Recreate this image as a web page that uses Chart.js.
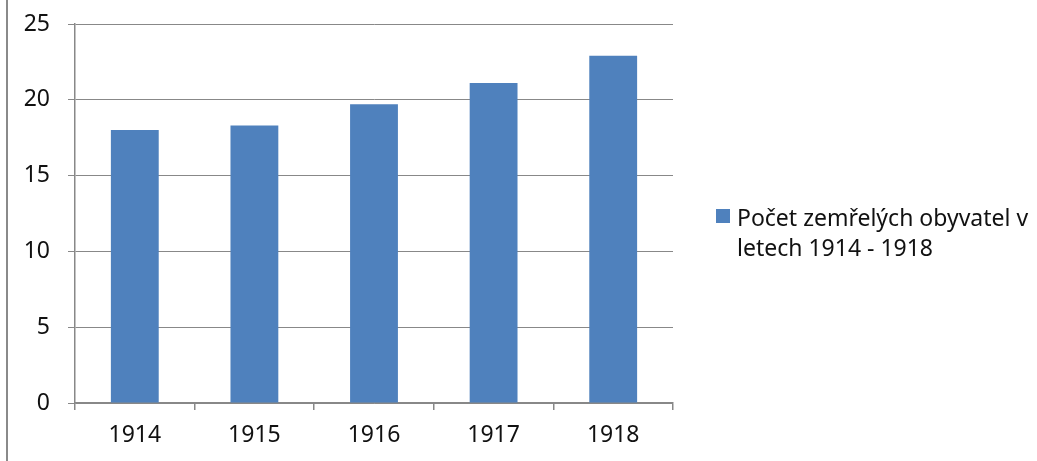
<!DOCTYPE html>
<html lang="cs">
<head>
    <meta charset="UTF-8">
    <title>Počet zemřelých obyvatel</title>
    <script src="https://cdn.jsdelivr.net/npm/chart.js"></script>
    <style>
        html, body { margin: 0; padding: 0; background: #fff; }
        #wrap { position: relative; width: 1037px; height: 461px; }
        #edge { position: absolute; left: 6px; top: 0; width: 2px; height: 461px; background: #8a8a8a; }
        #legend { position: absolute; left: 716px; top: 202px; font-family: "Noto Sans", sans-serif; font-size: 23px; line-height: 30px; color: #111; }
        #legend .box { position: absolute; left: 0; top: 7px; width: 14px; height: 14px; }
        #legend .txt { position: absolute; left: 21px; top: 0; width: 320px; }
    </style>
</head>
<body>
    <div id="wrap">
        <canvas id="chart" width="1037" height="461"></canvas>
        <div id="edge"></div>
        <div id="legend"></div>
    </div>

    <script>
        const years = ['1914', '1915', '1916', '1917', '1918'];
        const deaths = [18.0, 18.3, 19.7, 21.1, 22.9];
        const seriesLabel = 'Počet zemřelých obyvatel v letech 1914 - 1918';
        const barColor = '#4F81BD';
        const gridColor = '#888888';

        const ctx = document.getElementById('chart').getContext('2d');
        const chart = new Chart(ctx, {
            type: 'bar',
            data: {
                labels: years,
                datasets: [{
                    label: seriesLabel,
                    data: deaths,
                    backgroundColor: barColor,
                    barPercentage: 0.4,
                    categoryPercentage: 1
                }]
            },
            options: {
                responsive: false,
                animation: false,
                layout: { padding: { left: 0, right: 364, top: 24, bottom: 0 } },
                plugins: { legend: { display: false }, tooltip: { enabled: false } },
                scales: {
                    x: {
                        afterFit: function (scale) { scale.height = 58; scale.paddingLeft = 0; scale.paddingRight = 0; },
                        grid: { drawOnChartArea: false, drawTicks: true, tickLength: 7, offset: true, color: gridColor, lineWidth: 1.5 },
                        border: { color: gridColor, width: 1.5 },
                        ticks: { color: '#111', padding: 12, font: { family: 'Noto Sans', size: 23 } }
                    },
                    y: {
                        min: 0,
                        max: 25,
                        afterFit: function (scale) { scale.width = 75; scale.paddingTop = 0; scale.paddingBottom = 0; },
                        grid: { color: gridColor, lineWidth: 1, tickLength: 7 },
                        border: { color: gridColor, width: 1.5 },
                        ticks: { stepSize: 5, color: '#111', padding: 18, font: { family: 'Noto Sans', size: 23 } }
                    }
                }
            }
        });

        // legend with wrapped label, as in the original
        const ds = chart.data.datasets[0];
        document.getElementById('legend').innerHTML =
            '<span class="box" style="background:' + ds.backgroundColor + '"></span>' +
            '<span class="txt">' + ds.label + '</span>';
    </script>
</body>
</html>
